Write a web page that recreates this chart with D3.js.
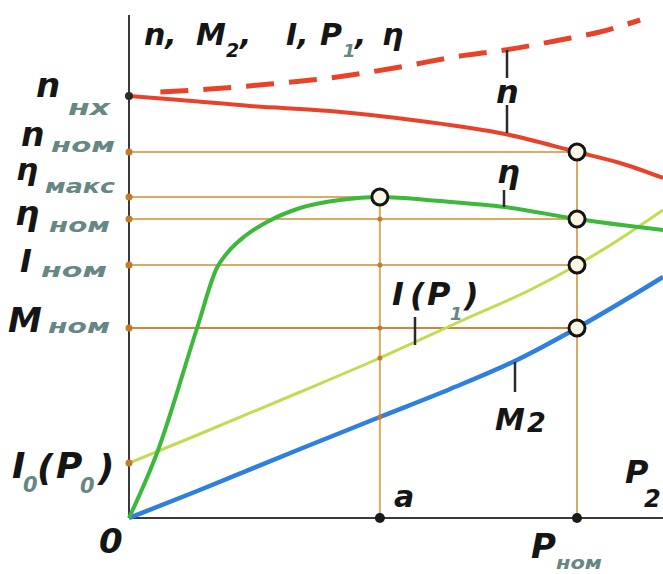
<!DOCTYPE html>
<html>
<head>
<meta charset="utf-8">
<script src="https://cdn.jsdelivr.net/npm/d3@7/dist/d3.min.js"></script>
<style>
  html, body { margin: 0; padding: 0; background: #ffffff; }
  svg { display: block; }
  text { font-family: "DejaVu Sans", sans-serif; font-style: italic; font-weight: bold; }
</style>
</head>
<body>
<svg id="chart" width="663" height="574"></svg>
<script>
// Performance characteristics of an induction motor versus output power P2
// (P2 in fractions of rated power, quantities in relative units).

// rotor speed n
const speedP2 = [0, 0.114, 0.27, 0.449, 0.65, 0.839, 1.0, 1.096, 1.192];
const speedN  = [84.4, 83.6, 82.4, 81.4, 79.4, 76.8, 73.2, 71.0, 68.0];

// dashed speed curve
const speedDashP2 = [0.07, 0.181, 0.315, 0.449, 0.605, 0.739, 0.839, 0.962, 1.051, 1.141];
const speedDashN  = [85.2, 85.8, 86.8, 88.0, 90.2, 92.4, 93.6, 95.6, 97.2, 99.6];

// efficiency η
const effP2   = [0, 0.0625, 0.152, 0.196, 0.221, 0.259, 0.308, 0.382, 0.471, 0.56, 0.694, 0.839, 1.0, 1.192];
const effVals = [0, 13, 38, 50, 53.2, 56.4, 59.2, 62, 63.6, 64.2, 63.4, 62.2, 59.8, 57.6];

// stator current I(P1)
const currentP2   = [0, 0.158, 0.382, 0.56, 0.746, 0.895, 1.0, 1.089, 1.192];
const currentVals = [11, 16.8, 25.2, 32, 39.6, 45.6, 50.6, 55.4, 61.6];

// shaft torque M2
const torqueP2   = [0, 0.158, 0.382, 0.56, 0.717, 0.866, 1.0, 1.096, 1.192];
const torqueVals = [0, 5.6, 13.8, 20.2, 25.8, 31.6, 38, 43, 48.2];

// characteristic points
const pRated = 1.0;      // P_ном
const pEffMax = 0.56;    // a
const nNoLoad = 84.4;    // n_нх
const nRated = 73.2;     // n_ном
const effMax = 64.2;     // η_макс
const effRated = 59.8;   // η_ном
const iRated = 50.6;     // I_ном
const mRated = 38;       // M_ном
const iNoLoad = 11;      // I0(P0)
const iAtA = 32;         // current at point a
const mAtA = 20.2;       // torque at point a

const svg = d3.select("#chart");

const x = d3.scaleLinear().domain([0, 1.2]).range([129, 129 + 1.2 * 448]);
const y = d3.scaleLinear().domain([0, 100]).range([518, 18]);

const C = {
  axis: "#3a3a3a",
  guide: "#dcaa62",
  guideM: "#d2843c",
  dot: "#c47a2c",
  red: "#e8432a",
  green: "#3cb83a",
  blue: "#2f80de",
  lime: "#c2dc52",
  ink: "#151515",
  sub: "#668784"
};

const toPts = (xs, ys) => xs.map((v, i) => [v, ys[i]]);
const lineGen = d3.line().x(d => x(d[0])).y(d => y(d[1])).curve(d3.curveMonotoneX);

// guide lines (under the curves)
const g = svg.append("g");
const hGuides = [
  { v: nRated, to: pRated, c: C.guide },
  { v: effMax, to: pEffMax, c: C.guide },
  { v: effRated, to: pRated, c: C.guide },
  { v: iRated, to: pRated, c: C.guide },
  { v: mRated, to: pRated, c: C.guideM }
];
hGuides.forEach(h => {
  g.append("line")
    .attr("x1", x(0)).attr("x2", x(h.to))
    .attr("y1", y(h.v)).attr("y2", y(h.v))
    .attr("stroke", h.c).attr("stroke-width", 2);
});
g.append("line")
  .attr("x1", x(pEffMax)).attr("x2", x(pEffMax))
  .attr("y1", y(0)).attr("y2", y(effMax))
  .attr("stroke", C.guide).attr("stroke-width", 2);
g.append("line")
  .attr("x1", x(pRated)).attr("x2", x(pRated))
  .attr("y1", y(0)).attr("y2", y(nRated))
  .attr("stroke", C.guide).attr("stroke-width", 2);

// axes
svg.append("line")
  .attr("x1", x(0)).attr("x2", x(0)).attr("y1", 15).attr("y2", y(0))
  .attr("stroke", C.axis).attr("stroke-width", 2);
svg.append("line")
  .attr("x1", x(0)).attr("x2", 663).attr("y1", y(0)).attr("y2", y(0))
  .attr("stroke", C.axis).attr("stroke-width", 2);

// curves
svg.append("path").datum(toPts(currentP2, currentVals))
  .attr("d", lineGen).attr("fill", "none")
  .attr("stroke", C.lime).attr("stroke-width", 3);
svg.append("path").datum(toPts(torqueP2, torqueVals))
  .attr("d", lineGen).attr("fill", "none")
  .attr("stroke", C.blue).attr("stroke-width", 4.5);
svg.append("path").datum(toPts(effP2, effVals))
  .attr("d", lineGen).attr("fill", "none")
  .attr("stroke", C.green).attr("stroke-width", 4);
svg.append("path").datum(toPts(speedP2, speedN))
  .attr("d", lineGen).attr("fill", "none")
  .attr("stroke", C.red).attr("stroke-width", 4);
svg.append("path").datum(toPts(speedDashP2, speedDashN))
  .attr("d", lineGen).attr("fill", "none")
  .attr("stroke", C.red).attr("stroke-width", 5)
  .attr("stroke-dasharray", "28,15");

// small dots where guides meet the axis and the a-line
[nRated, effMax, effRated, iRated, mRated, iNoLoad].forEach(v => {
  svg.append("circle").attr("cx", x(0)).attr("cy", y(v)).attr("r", 3.5).attr("fill", C.dot);
});
svg.append("circle").attr("cx", x(0)).attr("cy", y(nNoLoad)).attr("r", 4).attr("fill", "#2a2a2a");
[effRated, iRated, mRated, iAtA, mAtA].forEach(v => {
  svg.append("circle").attr("cx", x(pEffMax)).attr("cy", y(v)).attr("r", 2.5).attr("fill", C.dot);
});

// points on the P2 axis
[pEffMax, pRated].forEach(p => {
  svg.append("circle").attr("cx", x(p)).attr("cy", y(0)).attr("r", 5).attr("fill", "#1a1a1a");
});

// open markers at characteristic points
const marks = [[pEffMax, effMax], [pRated, nRated], [pRated, effRated], [pRated, iRated], [pRated, mRated]];
marks.forEach(([p, v]) => {
  svg.append("circle").attr("cx", x(p)).attr("cy", y(v)).attr("r", 8)
    .attr("fill", "#f8f5e4").attr("stroke", "#141414").attr("stroke-width", 3);
});

// leader ticks for curve labels
const ticks = [
  [507, 50, 507, 78],
  [507, 105, 507, 133],
  [504, 190, 504, 207],
  [415, 317, 415, 345],
  [515, 362, 515, 392]
];
ticks.forEach(t => {
  svg.append("line").attr("x1", t[0]).attr("y1", t[1]).attr("x2", t[2]).attr("y2", t[3])
    .attr("stroke", "#2a2a2a").attr("stroke-width", 2.5);
});

// text helper: one text element per glyph group
function txt(xp, yp, s, size, o = {}) {
  const t = svg.append("text").attr("x", xp).attr("y", yp)
    .attr("font-size", size).attr("fill", o.fill || C.ink).text(s);
  if (o.len) t.attr("textLength", o.len).attr("lengthAdjust", "spacingAndGlyphs");
  return t;
}
const sub = (xp, yp, s, len, size = 19) => txt(xp, yp, s, size, { fill: C.sub, len });

// left-hand labels
txt(36, 97, "n", 34);   sub(68, 115, "нх", 42, 21);
txt(21, 146, "n", 33);  sub(51, 152, "ном", 64);
txt(16, 180, "η", 31);  sub(45, 193, "макс", 70);
txt(15, 225, "η", 34);  sub(49, 232, "ном", 61);
txt(20, 272, "I", 32);  sub(41, 277, "ном", 66);
txt(8, 332, "M", 34);   sub(48, 333, "ном", 62);

// I0(P0)
txt(12, 478, "I", 36);
sub(23, 492, "0", null, 21);
txt(37, 480, "(", 36);
txt(56, 478, "P", 36);
sub(80, 493, "0", null, 21);
txt(98, 480, ")", 36);

// origin
txt(99, 553, "0", 34);

// axis title
txt(144, 45, "n,", 30);
txt(196, 45, "M", 30);
txt(226, 57, "2", 19);
txt(240, 45, ",", 30);
txt(286, 45, "I,", 30);
txt(320, 45, "P", 30);
sub(343, 57, "1", null, 18);
txt(355, 45, ",", 30);
txt(382, 45, "η", 30);

// curve labels
txt(496, 103, "n", 32);
txt(497, 183, "η", 32);
txt(392, 305, "I", 32);
txt(410, 306, "(", 32);
txt(427, 305, "P", 32);
sub(450, 320, "1", null, 18);
txt(464, 306, ")", 32);
txt(495, 430, "M", 30);
txt(527, 432, "2", 27);

// P2 axis labels
txt(394, 507, "a", 30);
txt(625, 483, "P", 32);
txt(644, 507, "2", 24);
txt(531, 558, "P", 34);
sub(556, 569, "ном", 46, 18);
</script>
</body>
</html>
